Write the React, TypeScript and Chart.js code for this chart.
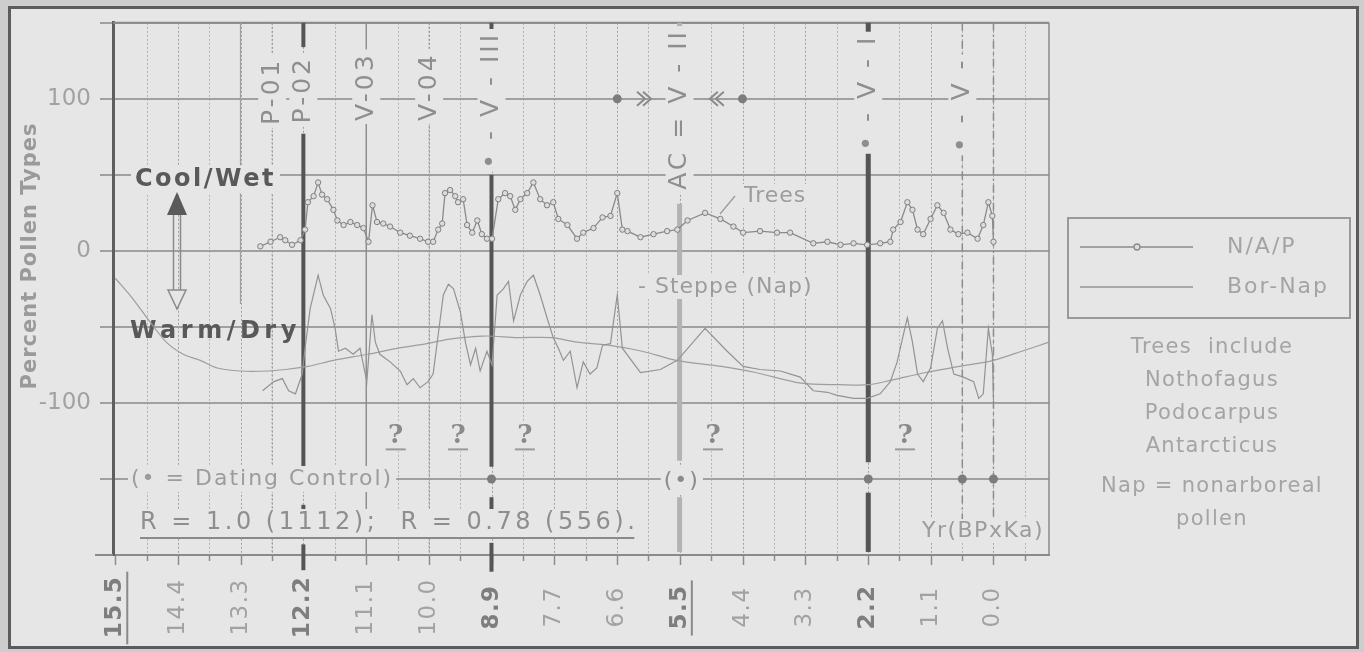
import React, { useEffect, useRef } from 'react';
import { Chart, registerables } from 'chart.js';

Chart.register(...registerables);

// ---------------- data ----------------
const X_TICK_LABELS = ['15.5', '14.4', '13.3', '12.2', '11.1', '10.0', '8.9', '7.7', '6.6', '5.5', '4.4', '3.3', '2.2', '1.1', '0.0'];
const X_START = 15.5;
const X_AXIS_MAX = 15.54;
const X_AXIS_MIN = -0.98;
const Y_MIN = -200;
const Y_MAX = 150;
const Y_STEP = 50;
const Y_TICK_LABELS = [100, 0, -100];

// N/A/P (trees) – ages in ka BP, percent
const NAP_AGES = [12.94, 12.76, 12.59, 12.50, 12.38, 12.23, 12.15, 12.10, 12.00, 11.92, 11.85, 11.76, 11.65, 11.58, 11.47, 11.35, 11.23, 11.12, 11.03, 10.96, 10.88, 10.77, 10.65, 10.47, 10.30, 10.12, 9.98, 9.89, 9.80, 9.73, 9.68, 9.59, 9.50, 9.45, 9.36, 9.29, 9.20, 9.11, 9.03, 8.94, 8.85, 8.74, 8.62, 8.53, 8.44, 8.35, 8.23, 8.12, 8.00, 7.88, 7.77, 7.68, 7.52, 7.35, 7.24, 7.06, 6.90, 6.76, 6.64, 6.55, 6.46, 6.23, 6.00, 5.76, 5.58, 5.40, 5.09, 4.82, 4.59, 4.42, 4.12, 3.82, 3.59, 3.18, 2.93, 2.70, 2.47, 2.23, 2.00, 1.82, 1.77, 1.64, 1.52, 1.43, 1.34, 1.24, 1.11, 0.99, 0.88, 0.76, 0.62, 0.46, 0.28, 0.18, 0.09, 0.02, 0.00];
const NAP_VALUES = [3, 6, 9, 7, 4, 7, 14, 32, 36, 45, 37, 34, 27, 20, 17, 19, 17, 15, 6, 30, 19, 18, 16, 12, 10, 8, 6, 6, 14, 18, 38, 40, 36, 32, 34, 17, 12, 20, 11, 8, 8, 34, 38, 36, 27, 34, 38, 45, 34, 30, 32, 21, 17, 8, 12, 15, 22, 23, 38, 14, 13, 9, 11, 13, 14, 20, 25, 21, 16, 12, 13, 12, 12, 5, 6, 4, 5, 4, 5, 6, 14, 19, 32, 27, 14, 11, 21, 30, 25, 14, 11, 12, 8, 17, 32, 23, 6];

// Bor-Nap (steppe, negative)
const BORNAP_AGES = [12.90, 12.70, 12.55, 12.44, 12.32, 12.20, 12.15, 12.06, 11.92, 11.83, 11.70, 11.62, 11.56, 11.44, 11.30, 11.18, 11.06, 10.97, 10.91, 10.83, 10.65, 10.47, 10.35, 10.24, 10.12, 9.98, 9.89, 9.80, 9.71, 9.62, 9.53, 9.41, 9.32, 9.23, 9.14, 9.06, 8.94, 8.85, 8.76, 8.65, 8.56, 8.47, 8.35, 8.23, 8.12, 8.00, 7.88, 7.77, 7.68, 7.59, 7.47, 7.35, 7.24, 7.12, 7.00, 6.90, 6.76, 6.64, 6.55, 6.23, 5.88, 5.58, 5.09, 4.70, 4.42, 4.12, 3.76, 3.41, 3.18, 2.93, 2.76, 2.47, 2.23, 2.00, 1.82, 1.70, 1.59, 1.52, 1.43, 1.34, 1.24, 1.11, 0.99, 0.90, 0.81, 0.70, 0.53, 0.35, 0.26, 0.18, 0.09, 0.02, 0.00];
const BORNAP_VALUES = [-92, -86, -84, -92, -94, -81, -64, -38, -16, -29, -38, -51, -66, -64, -68, -64, -86, -42, -60, -68, -73, -79, -88, -84, -90, -86, -81, -55, -29, -22, -25, -40, -60, -75, -64, -79, -66, -75, -29, -25, -20, -46, -29, -20, -16, -29, -44, -57, -64, -72, -66, -90, -73, -81, -77, -62, -61, -29, -64, -80, -78, -72, -51, -66, -76, -78, -79, -83, -92, -93, -95, -97, -97, -94, -86, -73, -55, -44, -60, -81, -86, -77, -51, -46, -64, -81, -83, -86, -97, -94, -51, -68, -98];

// smooth trend curve
const TREND_AGES = [15.50, 15.20, 14.90, 14.60, 14.30, 14.00, 13.70, 13.30, 12.80, 12.50, 12.10, 11.65, 11.05, 10.50, 10.00, 9.60, 9.00, 8.40, 7.80, 7.35, 6.80, 6.20, 5.60, 4.80, 4.20, 3.40, 2.70, 2.20, 1.80, 1.20, 0.60, 0.00, -0.50, -0.98];
const TREND_VALUES = [-18, -31, -46, -60, -68, -72, -77, -79, -79, -78, -76, -72, -68, -64, -61, -58, -56, -57, -57, -60, -62, -66, -72, -76, -80, -87, -88, -88, -85, -80, -76, -72, -66, -60];

// zone / dating annotations
const ZONE_LABELS = ['P-01', 'P-02', 'V-03', 'V-04', '\u2022 - V - III', 'AC = V - II', '\u2022 - V - I', '\u2022 - V -'];
const ZONE_AGES = [12.73, 12.18, 11.07, 9.96, 8.86, 5.54, 2.21, 0.55];
const ZONE_LABEL_Y = [105, 106, 108, 108, 99, 93, 104, 96];
const DATING_AGES = [8.86, 2.21, 0.55, 0.0];
const DATING_LEVEL = -150;
const BRACKET_DOT_AGES = [6.64, 4.43];
const BRACKET_ARROW_AGES = [6.15, 4.9];
const BRACKET_LEVEL = 100;
const QUESTION_AGES = [10.55, 9.45, 8.27, 4.95, 1.56];
const QUESTION_LEVEL = -122;

const FF = '"DejaVu Sans", "Liberation Sans", sans-serif';
const BG = '#e6e6e6';
const TXT = '#9c9c9c';
const DARK = '#595959';

// line segments (y ranges in data units) for the zone lines
const ZONE_LINES = [
  { age: 12.18, color: '#555', width: 4, dash: [], segs: [[150, 134], [77, -145], [-167, -178], [-193, -210]] },
  { age: 8.86, color: '#555', width: 4, dash: [], segs: [[150, 142], [50, -142], [-162, -171], [-192, -211]] },
  { age: 5.54, color: '#b3b3b3', width: 5, dash: [], segs: [[150, 146], [31, -138], [-162, -198]] },
  { age: 2.21, color: '#555', width: 5, dash: [], segs: [[150, 137], [72, -139], [-159, -198]] },
  { age: 0.55, color: '#8c8c8c', width: 1.5, dash: [8, 4, 2, 4], segs: [[150, 113], [64, -184]] },
  { age: 0.0, color: '#8c8c8c', width: 1.5, dash: [8, 4, 2, 4], segs: [[150, -184]] },
  { age: 12.73, color: '#9a9a9a', width: 1.2, dash: [2, 2], segs: [[150, 128], [82, -200]] },
  { age: 11.07, color: '#8f8f8f', width: 1.5, dash: [], segs: [[150, 130], [85, -200]] },
  { age: 9.96, color: '#9a9a9a', width: 1.2, dash: [2, 2], segs: [[150, 130], [85, -200]] },
  { age: 13.29, color: '#a0a0a0', width: 1.2, dash: [], segs: [[150, -35]] },
];

// ---------------- helpers ----------------
function line(ctx: any, x1: number, y1: number, x2: number, y2: number) {
  ctx.beginPath();
  ctx.moveTo(x1, y1);
  ctx.lineTo(x2, y2);
  ctx.stroke();
}

function text(ctx: any, s: string, x: number, y: number, o: any) {
  ctx.save();
  ctx.font = o.font;
  (ctx as any).letterSpacing = o.ls || '0px';
  ctx.translate(x, y);
  if (o.rot) ctx.rotate(-Math.PI / 2);
  const w = ctx.measureText(s).width;
  const align = o.align || 'left';
  const x0 = align === 'center' ? -w / 2 : align === 'right' ? -w : 0;
  if (o.bg) {
    const h = o.bh || 24;
    ctx.fillStyle = o.bg;
    ctx.fillRect(x0 - (o.pad ?? 4), -h / 2, w + 2 * (o.pad ?? 4), h);
  }
  ctx.fillStyle = o.color;
  ctx.textAlign = 'left';
  ctx.textBaseline = 'middle';
  ctx.fillText(s, x0, 0);
  if (o.underline) {
    ctx.strokeStyle = o.ucolor || o.color;
    ctx.lineWidth = 2;
    line(ctx, x0, o.uy, x0 + w - 4, o.uy);
  }
  ctx.restore();
  return w;
}

function dot(ctx: any, x: number, y: number, r: number, color: string) {
  ctx.beginPath();
  ctx.arc(x, y, r, 0, Math.PI * 2);
  ctx.fillStyle = color;
  ctx.fill();
}

function chevron(ctx: any, x: number, y: number, dir: number) {
  ctx.save();
  ctx.strokeStyle = '#8a8a8a';
  ctx.lineWidth = 2;
  for (const off of [0, 6]) {
    ctx.beginPath();
    ctx.moveTo(x - dir * (8 - off), y - 7);
    ctx.lineTo(x + dir * off, y);
    ctx.lineTo(x - dir * (8 - off), y + 7);
    ctx.stroke();
  }
  ctx.restore();
}

const HALF = 15.5 / 28;

const overlay = {
  id: 'pollenOverlay',
  beforeDraw(chart: any) {
    const { ctx, width, height, chartArea: ca } = chart;
    const xs = chart.scales.x;
    ctx.save();
    ctx.fillStyle = '#cdcdcd';
    ctx.fillRect(0, 0, width, height);
    ctx.fillStyle = BG;
    ctx.fillRect(10, 8, 1347, 639);
    for (let k = 0; k <= 29; k++) {
      const v = X_START - k * HALF;
      const px = Math.round(xs.getPixelForValue(v)) + 0.5;
      if (k > 0) {
        ctx.setLineDash([2, 2]);
        ctx.strokeStyle = k % 2 === 0 ? '#9e9e9e' : '#b2b2b2';
        ctx.lineWidth = 1;
        line(ctx, px, ca.top, px, ca.bottom);
      }
      ctx.setLineDash([]);
      ctx.strokeStyle = '#8c8c8c';
      ctx.lineWidth = 1.5;
      line(ctx, px, ca.bottom, px, ca.bottom + (k % 2 === 0 ? 10 : 6));
    }
    ctx.restore();
  },
  beforeDatasetsDraw(chart: any) {
    const { ctx, chartArea: ca } = chart;
    const xs = chart.scales.x;
    const ys = chart.scales.y;
    const X = (v: number) => xs.getPixelForValue(v);
    const Y = (v: number) => ys.getPixelForValue(v);
    ctx.save();
    // borders
    ctx.strokeStyle = '#8a8a8a';
    ctx.lineWidth = 2;
    line(ctx, ca.left, ca.top, ca.right, ca.top);
    ctx.lineWidth = 1.5;
    line(ctx, ca.right, ca.top, ca.right, ca.bottom);
    ctx.lineWidth = 2;
    line(ctx, 95, ca.bottom, ca.left, ca.bottom);

    // zone lines
    for (const z of ZONE_LINES) {
      const px = X(z.age);
      ctx.strokeStyle = z.color;
      ctx.lineWidth = z.width;
      ctx.setLineDash(z.dash);
      for (const [a, b] of z.segs) line(ctx, px, Y(a), px, Y(b));
    }
    ctx.setLineDash([]);

    // zone labels (rotated)
    ZONE_LABELS.forEach((s, i) => {
      text(ctx, s, X(ZONE_AGES[i]), Y(ZONE_LABEL_Y[i]), {
        font: `25px ${FF}`, color: '#8e8e8e', rot: true, align: 'center', ls: '3px', bg: BG, bh: 28, pad: 3,
      });
    });

    // bracket on 100 line
    BRACKET_DOT_AGES.forEach((a) => dot(ctx, X(a), Y(BRACKET_LEVEL), 4.5, '#7c7c7c'));
    chevron(ctx, X(BRACKET_ARROW_AGES[0]), Y(BRACKET_LEVEL), 1);
    chevron(ctx, X(BRACKET_ARROW_AGES[1]), Y(BRACKET_LEVEL), -1);

    // Cool / Warm labels
    text(ctx, 'Cool/Wet', 135, Y(47), { font: `bold 24px ${FF}`, color: DARK, ls: '2.5px', bg: BG, bh: 28 });
    text(ctx, 'Warm/Dry', 130, Y(-53), { font: `bold 24px ${FF}`, color: DARK, ls: '4.5px', bg: '', bh: 28 });

    // double arrow
    ctx.strokeStyle = '#8a8a8a';
    ctx.lineWidth = 1.5;
    line(ctx, 173.5, 212, 173.5, 292);
    line(ctx, 180.5, 212, 180.5, 292);
    ctx.beginPath();
    ctx.moveTo(177, 192); ctx.lineTo(167, 215); ctx.lineTo(187, 215); ctx.closePath();
    ctx.fillStyle = '#5a5a5a'; ctx.fill();
    ctx.beginPath();
    ctx.moveTo(168, 290); ctx.lineTo(177, 309); ctx.lineTo(186, 290); ctx.closePath();
    ctx.fillStyle = BG; ctx.fill(); ctx.stroke();

    // Trees / Steppe labels
    text(ctx, 'Trees', 744, 196, { font: `22px ${FF}`, color: TXT, ls: '1px', bg: BG, bh: 24 });
    ctx.strokeStyle = '#999'; ctx.lineWidth = 1.2;
    line(ctx, 720, 214, 735, 196);
    text(ctx, '- Steppe (Nap)', 638, 287, { font: `22px ${FF}`, color: TXT, ls: '1px', bg: BG, bh: 24 });

    // question marks
    QUESTION_AGES.forEach((a) => {
      const px = X(a), py = Y(QUESTION_LEVEL);
      text(ctx, '?', px, py, { font: `bold 26px "DejaVu Serif", serif`, color: '#8a8a8a', align: 'center', bg: BG, bh: 30, pad: 3 });
      ctx.strokeStyle = '#9a9a9a'; ctx.lineWidth = 2;
      line(ctx, px - 10, py + 13, px + 10, py + 13);
    });

    // dating control line content
    const dy = Y(DATING_LEVEL);
    text(ctx, '(\u2022 = Dating Control)', 131, dy, { font: `22px ${FF}`, color: TXT, ls: '2px', bg: BG, bh: 26, pad: 3 });
    DATING_AGES.forEach((a) => dot(ctx, X(a), dy, 4.5, '#7c7c7c'));
    text(ctx, '(\u2022)', X(5.5), dy + 2, { font: `22px ${FF}`, color: '#8a8a8a', align: 'center', ls: '2px', bg: BG, bh: 28, pad: 3 });

    // R statistics
    text(ctx, 'R = 1.0 (1112);  R = 0.78 (556).', 140, 523, {
      font: `24px ${FF}`, color: '#8e8e8e', ls: '3.5px', bg: BG, bh: 28, pad: 3, underline: true, uy: 15, ucolor: '#8a8a8a',
    });
    text(ctx, 'Yr(BPxKa)', 1044, 531, { font: `22px ${FF}`, color: TXT, align: 'right', ls: '1.5px', bg: BG, bh: 24, pad: 3 });
    ctx.restore();
  },
  afterDraw(chart: any) {
    const { ctx } = chart;
    const xs = chart.scales.x;
    ctx.save();
    // x tick labels
    X_TICK_LABELS.forEach((s, i) => {
      const px = xs.getPixelForValue(X_START - i * 2 * HALF);
      const strong = i % 3 === 0;
      const w = text(ctx, s, px, 607, {
        font: `${strong ? 'bold ' : ''}23px ${FF}`, color: strong ? '#7e7e7e' : '#a2a2a2', rot: true, align: 'center', ls: '1.5px',
      });
      if (i === 0 || i === 9) {
        ctx.strokeStyle = '#8a8a8a'; ctx.lineWidth = 2;
        line(ctx, px + 12, 607 - w / 2 - 4, px + 12, 607 + w / 2 + 6);
      }
    });
    // y title
    text(ctx, 'Percent Pollen Types', 31, 256, { font: `bold 21px ${FF}`, color: '#9a9a9a', rot: true, align: 'center', ls: '1px' });

    // legend
    const ds = chart.data.datasets;
    ctx.strokeStyle = '#9a9a9a'; ctx.lineWidth = 2;
    ctx.strokeRect(1068, 218, 282, 100);
    [0, 1].forEach((di, r) => {
      const y = 247 + r * 40;
      ctx.strokeStyle = ds[di].borderColor; ctx.lineWidth = 1.3;
      line(ctx, 1080, y, 1193, y);
      if (di === 0) {
        ctx.beginPath(); ctx.arc(1137, y, 3, 0, Math.PI * 2);
        ctx.fillStyle = '#dedede'; ctx.fill(); ctx.stroke();
      }
      text(ctx, ds[di].label, 1227, y, { font: `22px ${FF}`, color: '#a4a4a4', ls: '2px' });
    });
    const notes = ['Trees  include', 'Nothofagus', 'Podocarpus', 'Antarcticus', 'Nap = nonarboreal', 'pollen'];
    const ny = [348, 381, 414, 447, 487, 520];
    notes.forEach((s, i) => text(ctx, s, 1212, ny[i], { font: `21px ${FF}`, color: '#a4a4a4', align: 'center', ls: '1.3px' }));

    // frame
    ctx.strokeStyle = '#5c5c5c'; ctx.lineWidth = 3;
    ctx.strokeRect(9.5, 7.5, 1348, 640);
    ctx.restore();
  },
};

const pts = (xs: number[], ys: number[]) => xs.map((x, i) => ({ x, y: ys[i] }));

export default function App() {
  const ref = useRef<HTMLCanvasElement>(null);
  useEffect(() => {
    document.body.style.margin = '0';
    const canvas = ref.current as HTMLCanvasElement;
    const chart = new Chart(canvas, {
      type: 'line',
      data: {
        datasets: [
          {
            label: 'N/A/P', data: pts(NAP_AGES, NAP_VALUES), borderColor: '#8a8a8a', borderWidth: 1.3,
            pointRadius: 2.7, pointBackgroundColor: '#dcdcdc', pointBorderColor: '#808080', pointBorderWidth: 1, tension: 0,
          },
          {
            label: 'Bor-Nap', data: pts(BORNAP_AGES, BORNAP_VALUES), borderColor: '#939393', borderWidth: 1.2,
            pointRadius: 0, tension: 0,
          },
          {
            label: 'trend', data: pts(TREND_AGES, TREND_VALUES), borderColor: '#9e9e9e', borderWidth: 1.2,
            pointRadius: 0, tension: 0.3,
          },
        ],
      } as any,
      options: {
        animation: false,
        responsive: false,
        maintainAspectRatio: false,
        devicePixelRatio: 1,
        layout: { padding: { left: 0, right: 315, top: 18, bottom: 0 } },
        plugins: { legend: { display: false }, tooltip: { enabled: false } },
        scales: {
          x: {
            type: 'linear', reverse: true, min: X_AXIS_MIN, max: X_AXIS_MAX,
            afterFit: (s: any) => { s.height = 97; },
            ticks: { display: false },
            grid: { display: false },
            border: { display: true, color: '#8a8a8a', width: 2 },
          },
          y: {
            type: 'linear', min: Y_MIN, max: Y_MAX,
            afterBuildTicks: (s: any) => {
              const t = [];
              for (let v = Y_MIN; v <= Y_MAX; v += Y_STEP) t.push({ value: v });
              s.ticks = t;
            },
            afterFit: (s: any) => { s.width = 113; },
            ticks: {
              callback: (v: any) => (Y_TICK_LABELS.includes(Number(v)) ? String(v) : ''),
              font: { family: FF, size: 23 }, color: '#a2a2a2', padding: 9,
            },
            grid: { color: '#a0a0a0', lineWidth: 2, tickLength: 13 },
            border: { display: true, color: '#5e5e5e', width: 3 },
          },
        },
      } as any,
      plugins: [overlay],
    });
    return () => chart.destroy();
  }, []);
  return <canvas ref={ref} width={1364} height={652} style={{ display: 'block' }} />;
}
